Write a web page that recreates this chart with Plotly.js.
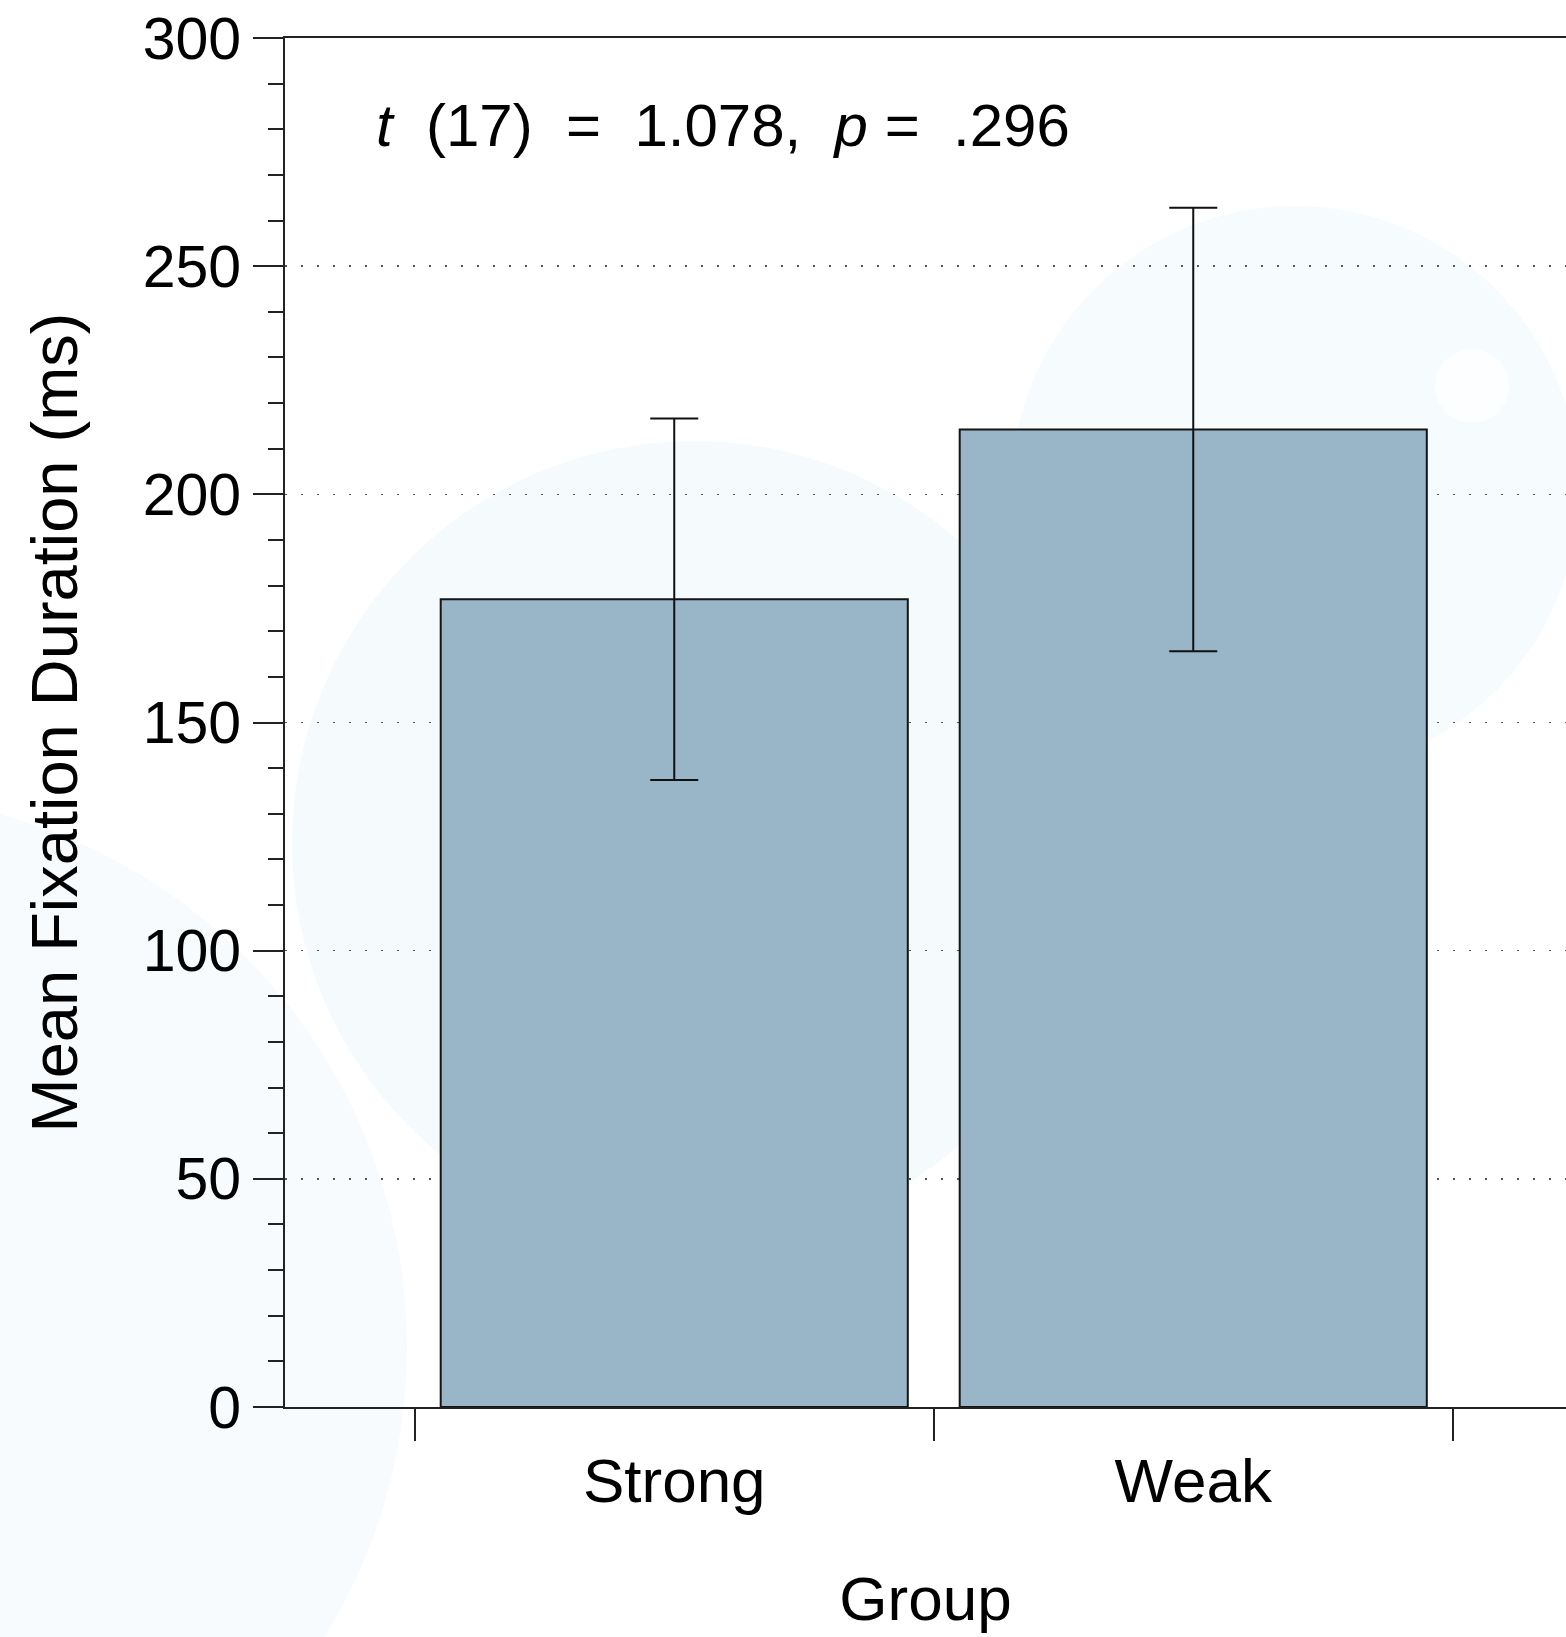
<!DOCTYPE html>
<html>
<head>
<meta charset="utf-8">
<script src="https://cdn.plot.ly/plotly-3.0.1.min.js"></script>
<style>
html,body{margin:0;padding:0;background:#ffffff;overflow:hidden}
#chart{width:1566px;height:1637px}
</style>
</head>
<body>
<div id="chart"></div>
<script>
// ---- data ----
const groups = ['Strong', 'Weak'];
const meanFixation = [177.0, 214.2];
const errorPlus = [39.6, 48.6];
const errorMinus = [39.6, 48.6];
const yTickVals = [0, 50, 100, 150, 200, 250, 300];
const yTickText = ['0', '50', '100', '150', '200', '250', '300'];
const xTitle = 'Group';
const yTitle = 'Mean Fixation Duration (ms)';
const nb = '\u00a0';
const statLabel = '<i>t</i>' + nb + nb + '(17)' + nb + nb + '=' + nb + nb + '1.078,' + nb + nb + '<i>p</i>' + nb + '=' + nb + nb + '.296';

// ---- layout geometry ----
const W = 1566, H = 1637;
const M = {l: 285, r: 0, t: 38, b: 230};
const plotW = W - M.l - M.r, plotH = H - M.t - M.b;
const FONT = 'Liberation Sans, Arial, sans-serif';

// decorative pale circles in the background (pixel centre, radius)
const decoCircles = [
  {cx: 694, cy: 843, r: 402, color: '#f5fafd'},
  {cx: 1295, cy: 490, r: 284, color: '#f6fbfd'},
  {cx: -145, cy: 1347, r: 552, color: '#f7fbfd'},
  {cx: 1472, cy: 386, r: 37, color: '#fdfeff'}
];
function px2paperX(px) { return (px - M.l) / plotW; }
function px2paperY(py) { return (H - M.b - py) / plotH; }
const shapes = decoCircles.map(c => ({
  type: 'circle', xref: 'paper', yref: 'paper', layer: 'below',
  x0: px2paperX(c.cx - c.r), x1: px2paperX(c.cx + c.r),
  y0: px2paperY(c.cy + c.r), y1: px2paperY(c.cy - c.r),
  fillcolor: c.color, line: {width: 0}
}));

const trace = {
  type: 'bar',
  x: groups,
  y: meanFixation,
  width: 0.9,
  marker: {color: '#99b6c8', line: {color: '#141414', width: 2}},
  error_y: {
    type: 'data', symmetric: false,
    array: errorPlus, arrayminus: errorMinus,
    color: '#111111', thickness: 2, width: 24
  },
  hoverinfo: 'skip'
};

const layout = {
  width: W, height: H,
  margin: M,
  paper_bgcolor: '#ffffff',
  plot_bgcolor: 'rgba(0,0,0,0)',
  showlegend: false,
  font: {family: FONT, color: '#000000', size: 60},
  shapes: shapes,
  xaxis: {
    type: 'category',
    range: [-0.75, -0.75 + plotW / 519],
    tickson: 'boundaries',
    ticks: 'outside', ticklen: 32, tickwidth: 2, tickcolor: '#222222',
    ticklabelstandoff: 19,
    showline: true, linecolor: '#222222', linewidth: 2, mirror: true,
    showgrid: false, zeroline: false,
    tickfont: {family: FONT, size: 62, color: '#000000'},
    title: {text: xTitle, font: {family: FONT, size: 62, color: '#000000'}, standoff: 62}
  },
  yaxis: {
    range: [0, 300],
    tickmode: 'array', tickvals: yTickVals, ticktext: yTickText,
    ticks: 'outside', ticklen: 30, tickwidth: 2, tickcolor: '#222222',
    minor: {dtick: 10, tick0: 0, ticks: 'outside', ticklen: 15, tickwidth: 2, tickcolor: '#222222', showgrid: false},
    showline: true, linecolor: '#222222', linewidth: 2, mirror: false,
    showgrid: true, gridcolor: '#555555', gridwidth: 1.5, griddash: '2px,14px',
    zeroline: false,
    tickfont: {family: FONT, size: 59, color: '#000000'},
    title: {text: yTitle, font: {family: FONT, size: 65, color: '#000000'}, standoff: 44}
  },
  annotations: [{
    xref: 'paper', yref: 'paper',
    x: px2paperX(374), y: px2paperY(126),
    xanchor: 'left', yanchor: 'middle',
    text: statLabel, showarrow: false,
    font: {family: FONT, size: 60, color: '#000000'}
  }]
};

Plotly.newPlot('chart', [trace], layout, {displayModeBar: false, staticPlot: true});
</script>
</body>
</html>
